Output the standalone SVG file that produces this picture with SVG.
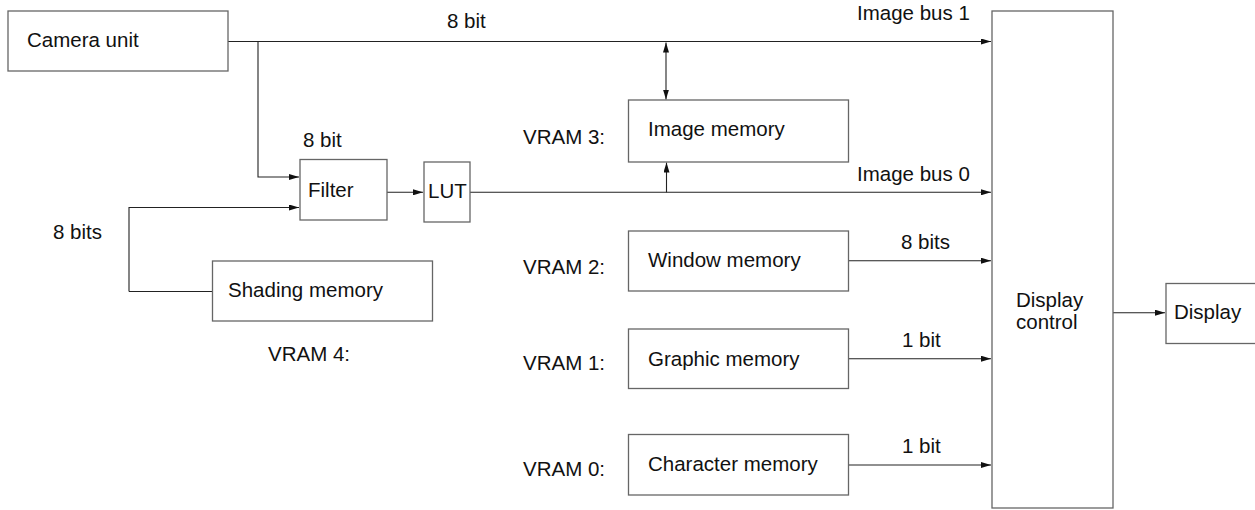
<svg xmlns="http://www.w3.org/2000/svg" width="1255" height="510" viewBox="0 0 1255 510">
<style>
.box{fill:#fff;stroke:#666;stroke-width:1.3}
.t{font-family:"Liberation Sans",Arial,sans-serif;font-size:20.5px;fill:#111}
.c{fill:none;stroke:#222;stroke-width:1.1}
</style>
<defs>
<marker id="ah" viewBox="0 0 10 6" refX="10" refY="3" markerWidth="10" markerHeight="6" markerUnits="userSpaceOnUse" orient="auto-start-reverse">
<path d="M0,0 L10,3 L0,6 Z" fill="#111"/>
</marker>
</defs>
<rect width="1255" height="510" fill="#fff"/>
<g id="connectors">
<path class="c" d="M228,41.5 H991" marker-end="url(#ah)"/>
<path class="c" d="M258,41.5 V177 H299" marker-end="url(#ah)"/>
<path class="c" d="M666,42.5 V99.5" marker-start="url(#ah)" marker-end="url(#ah)"/>
<path class="c" d="M129,291.5 V207.5 H299" marker-end="url(#ah)"/>
<path class="c" d="M212,291.5 H129"/>
<path class="c" d="M387,192.3 H423" marker-end="url(#ah)"/>
<path class="c" d="M470,192.3 H991" marker-end="url(#ah)"/>
<path class="c" d="M666.5,192.3 V162.5" marker-end="url(#ah)"/>
<path class="c" d="M848,260.7 H991" marker-end="url(#ah)"/>
<path class="c" d="M848,358.7 H991" marker-end="url(#ah)"/>
<path class="c" d="M848,465 H991" marker-end="url(#ah)"/>
<path class="c" d="M1113,312.7 H1165" marker-end="url(#ah)"/>
<text class="t" x="447" y="28">8 bit</text>
<text class="t" x="857" y="20">Image bus 1</text>
<text class="t" x="303" y="147">8 bit</text>
<text class="t" x="53" y="239">8 bits</text>
<text class="t" x="857" y="181">Image bus 0</text>
<text class="t" x="901" y="249">8 bits</text>
<text class="t" x="902" y="347">1 bit</text>
<text class="t" x="902" y="453">1 bit</text>
</g>
<g id="camera"><rect class="box" x="8" y="11" width="220" height="60"/><text class="t" x="27" y="47">Camera unit</text></g>
<g id="filter"><rect class="box" x="300" y="159.5" width="87" height="60.5"/><text class="t" x="308" y="197">Filter</text></g>
<g id="lut"><rect class="box" x="424" y="162" width="46" height="60"/><text class="t" x="428" y="198">LUT</text></g>
<g id="shading"><rect class="box" x="212.5" y="261" width="220" height="60"/><text class="t" x="228" y="297">Shading memory</text><text class="t" x="268" y="361">VRAM 4:</text></g>
<g id="imagemem"><rect class="box" x="628.5" y="100" width="220" height="62"/><text class="t" x="648" y="136">Image memory</text><text class="t" x="523" y="144">VRAM 3:</text></g>
<g id="windowmem"><rect class="box" x="628.5" y="231" width="220" height="60"/><text class="t" x="648" y="267">Window memory</text><text class="t" x="523" y="274">VRAM 2:</text></g>
<g id="graphicmem"><rect class="box" x="628.5" y="329" width="220" height="59.5"/><text class="t" x="648" y="365.5">Graphic memory</text><text class="t" x="523" y="370">VRAM 1:</text></g>
<g id="charmem"><rect class="box" x="628.5" y="434.5" width="220" height="60.5"/><text class="t" x="648" y="471">Character memory</text><text class="t" x="523" y="476">VRAM 0:</text></g>
<g id="displaycontrol"><rect class="box" x="992" y="11" width="121" height="497"/><text class="t" x="1016" y="307">Display</text><text class="t" x="1016" y="329">control</text></g>
<g id="display"><rect class="box" x="1166" y="283.5" width="95" height="60"/><text class="t" x="1174" y="319">Display</text></g>
</svg>
